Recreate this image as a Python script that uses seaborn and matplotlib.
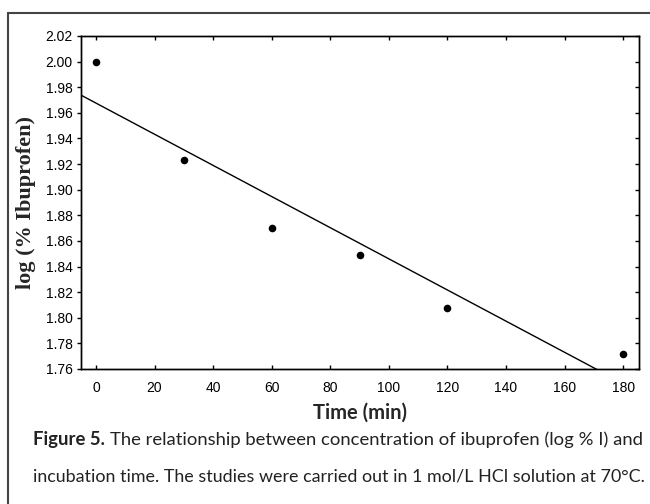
import matplotlib
matplotlib.use("Agg")
import matplotlib.pyplot as plt
import seaborn as sns
import pandas as pd

time_min = [0, 30, 60, 90, 120, 180]
log_ibu = [2.000, 1.923, 1.870, 1.849, 1.808, 1.772]

x_ticks = [0, 20, 40, 60, 80, 100, 120, 140, 160, 180]
y_ticks = [1.76, 1.78, 1.80, 1.82, 1.84, 1.86, 1.88, 1.90, 1.92, 1.94, 1.96, 1.98, 2.00, 2.02]

caption_bold = "Figure 5."
caption_line1 = "The relationship between concentration of ibuprofen (log % I) and"
caption_line2 = "incubation time. The studies were carried out in 1 mol/L HCl solution at 70°C."

df = pd.DataFrame({"Time": time_min, "LogI": log_ibu})

sns.set_style("white")
plt.rcParams["font.family"] = ["Liberation Sans", "DejaVu Sans"]

W, H = 650, 504
fig = plt.figure(figsize=(6.5, 5.04), dpi=100)
ax = fig.add_axes([81 / W, 1 - 369 / H, (639 - 81) / W, (369 - 36) / H])

xlim = (-5.1, 185.4)
ylim = (1.76, 2.02)
ax.set_xlim(*xlim)
ax.set_ylim(*ylim)
sns.regplot(x="Time", y="LogI", data=df, ax=ax, ci=None, truncate=False,
            scatter_kws={"s": 30, "color": "black", "linewidths": 0, "alpha": 1},
            line_kws={"color": "black", "lw": 1.0})
ax.set_xlim(*xlim)
ax.set_ylim(*ylim)

ax.set_xticks(x_ticks)
ax.set_yticks(y_ticks)
ax.set_yticklabels([f"{v:.2f}" for v in y_ticks])
ax.tick_params(axis="x", direction="in", top=True, bottom=True, length=3, width=1,
               labelsize=10, pad=9, colors="black")
ax.tick_params(axis="y", direction="out", left=True, right=False, length=3, width=1,
               labelsize=10, pad=3, colors="black")

# inward ticks on the right spine
ax2 = ax.twinx()
ax2.set_ylim(*ylim)
ax2.set_yticks(y_ticks)
ax2.tick_params(axis="y", direction="in", right=True, labelright=False, length=3, width=1,
                colors="black")

for a in (ax, ax2):
    for s in a.spines.values():
        s.set_color("black")
        s.set_linewidth(1.0)

ax.set_xlabel("Time (min)", fontsize=14.5, fontweight="bold", family="Lato", labelpad=5)
ax.set_ylabel("log (% Ibuprofen)", fontsize=16, fontweight="bold",
              family="Liberation Serif", labelpad=7)

# outer frame (left and top edges visible)
fig.add_artist(plt.Line2D([8 / W, 8 / W], [0, 1 - 13 / H], color="#444444", lw=1.5))
fig.add_artist(plt.Line2D([8 / W, 1], [1 - 13 / H, 1 - 13 / H], color="#444444", lw=1.5))

# caption, sized so each line runs from x=33 to x=642
cap_kw = dict(family="Lato", color="#222222", va="center", ha="left")
renderer = fig.canvas.get_renderer()
size = 13
t1 = fig.text(33 / W, 1 - 440 / H, caption_bold, fontsize=size, fontweight="bold", **cap_kw)
t2 = fig.text(0, 1 - 440 / H, caption_line1, fontsize=size, **cap_kw)
for _ in range(3):
    b1 = t1.get_window_extent(renderer)
    t2.set_x((b1.x1 + 5) / W)
    b2 = t2.get_window_extent(renderer)
    size = size * (642 - 33) / (b2.x1 - 33)
    t1.set_fontsize(size)
    t2.set_fontsize(size)
b1 = t1.get_window_extent(renderer)
t2.set_x((b1.x1 + 5) / W)

t3 = fig.text(33 / W, 1 - 477 / H, caption_line2, fontsize=13, **cap_kw)
b3 = t3.get_window_extent(renderer)
t3.set_fontsize(13 * (642 - 33) / (b3.x1 - 33))

fig.savefig("out.png", dpi=100)
